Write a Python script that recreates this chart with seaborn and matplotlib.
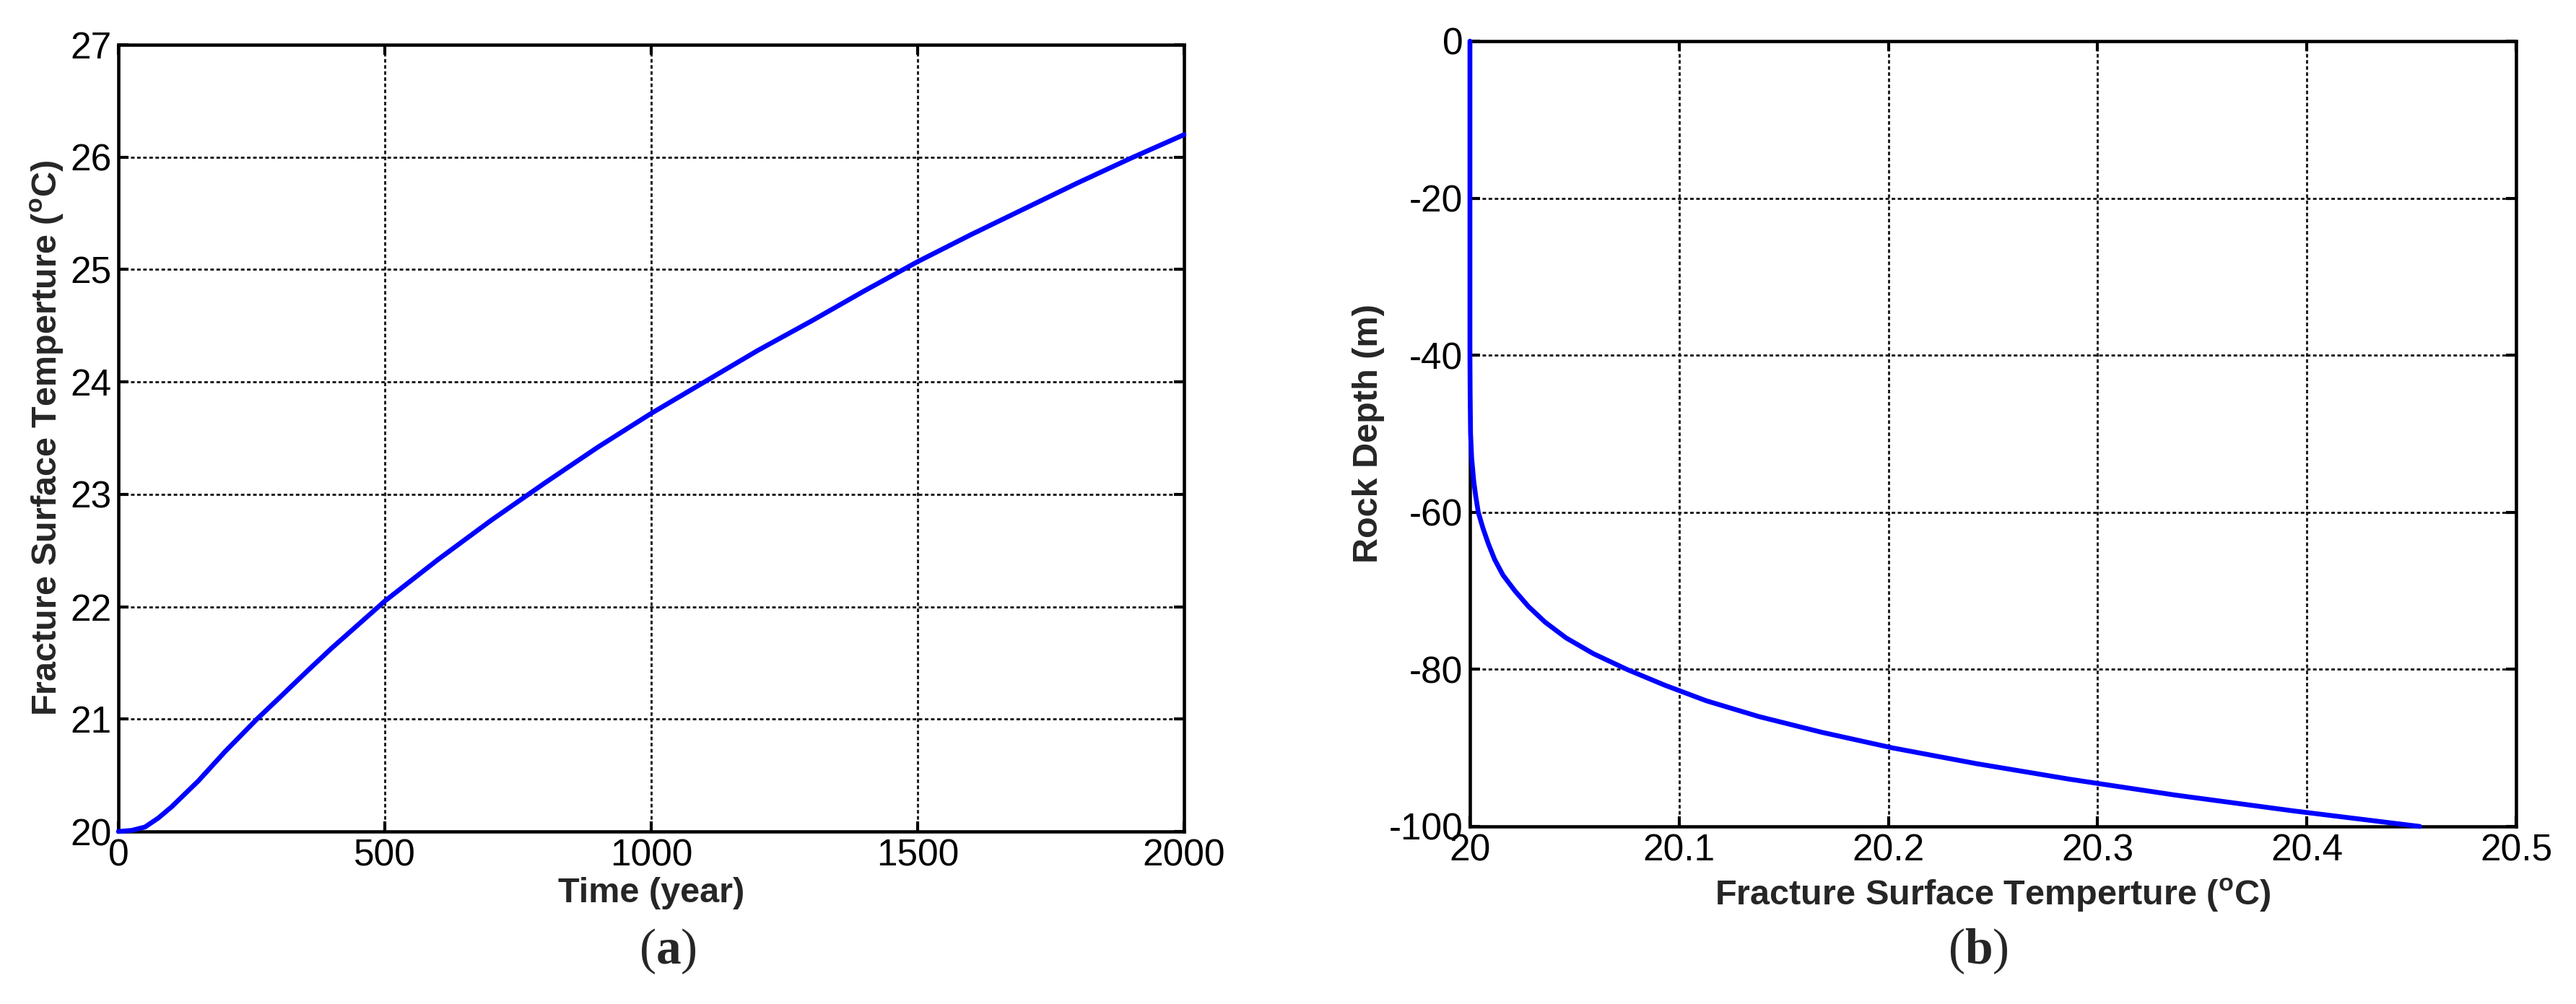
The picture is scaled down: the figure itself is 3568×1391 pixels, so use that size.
import numpy as np
import pandas as pd
import seaborn as sns
import matplotlib
matplotlib.use("Agg")
import matplotlib.pyplot as plt

# ---------------- data ----------------
time_years = [0, 25, 50, 75, 100, 150, 200, 260, 300, 355, 400, 500, 600, 700, 800, 900,
              1000, 1100, 1200, 1300, 1400, 1500, 1600, 1700, 1800, 1900, 2000]
surface_temp = [20.0, 20.01, 20.04, 20.12, 20.22, 20.45, 20.71, 21.0, 21.18, 21.43, 21.63,
                22.05, 22.42, 22.77, 23.10, 23.42, 23.72, 24.0, 24.28, 24.54, 24.81,
                25.07, 25.31, 25.54, 25.77, 25.99, 26.20]

rock_depth = [0, -10, -20, -30, -40, -45, -50, -53, -56, -58, -60, -62, -64, -66, -68,
              -70, -72, -74, -76, -78, -80, -82, -84, -86, -88, -90, -92, -94, -96,
              -98, -100]
depth_temp = [20.0, 20.0, 20.0, 20.0, 20.0, 20.0001, 20.0003, 20.0008, 20.0018, 20.0028,
              20.004, 20.0062, 20.0088, 20.0118, 20.0158, 20.0215, 20.028, 20.036,
              20.046, 20.059, 20.075, 20.093, 20.113, 20.138, 20.168, 20.202, 20.242,
              20.287, 20.337, 20.393, 20.454]

a_xticks = [0, 500, 1000, 1500, 2000]
a_xticklabels = ["0", "500", "1000", "1500", "2000"]
a_yticks = [20, 21, 22, 23, 24, 25, 26, 27]
a_yticklabels = ["20", "21", "22", "23", "24", "25", "26", "27"]
b_xticks = [20.0, 20.1, 20.2, 20.3, 20.4, 20.5]
b_xticklabels = ["20", "20.1", "20.2", "20.3", "20.4", "20.5"]
b_yticks = [0, -20, -40, -60, -80, -100]
b_yticklabels = ["0", "-20", "-40", "-60", "-80", "-100"]

# ---------------- style ----------------
sns.set_style("ticks")
SANS = ["Liberation Sans Narrow", "Liberation Sans", "DejaVu Sans"]
plt.rcParams["font.family"] = SANS
plt.rcParams["mathtext.fontset"] = "custom"
plt.rcParams["mathtext.sf"] = "Liberation Sans:bold"
plt.rcParams["mathtext.rm"] = "Liberation Serif"
plt.rcParams["mathtext.bf"] = "Liberation Serif:bold"

DPI = 100
W, H = 3568, 1391
fig = plt.figure(figsize=(W / DPI, H / DPI), dpi=DPI)
fig.patch.set_facecolor("white")

ax_a = fig.add_axes([164 / W, 1 - 1152 / H, 1476 / W, 1090 / H])
ax_b = fig.add_axes([2036 / W, 1 - 1145 / H, 1449 / W, 1088 / H])

df_a = pd.DataFrame({"t": time_years, "T": surface_temp})
df_b = pd.DataFrame({"T": depth_temp, "d": rock_depth})

sns.lineplot(data=df_a, x="t", y="T", ax=ax_a, color="#0000ff", linewidth=4.8,
             sort=False, clip_on=False, zorder=5)
sns.lineplot(data=df_b, x="T", y="d", ax=ax_b, color="#0000ff", linewidth=4.8,
             sort=False, orient="y", clip_on=False, zorder=5)

tick_fs = 37
label_fs = 35

def style(ax, xticks, xtl, yticks, ytl, xlim, ylim):
    ax.set_xlim(*xlim)
    ax.set_ylim(*ylim)
    ax.set_xticks(xticks)
    ax.set_xticklabels(xtl, fontsize=tick_fs)
    ax.set_yticks(yticks)
    ax.set_yticklabels(ytl, fontsize=tick_fs)
    ax.grid(True, color="#1a1a1a", linestyle=(0, (1.7, 1.2)), linewidth=2.1)
    ax.set_axisbelow(True)
    for s in ax.spines.values():
        s.set_visible(True)
        s.set_linewidth(3.3)
        s.set_color("black")
        s.set_zorder(4)
    ax.tick_params(direction="in", length=10, width=3.0, top=True, right=True,
                   colors="black", labelcolor="black", pad=7)
    ax.set_facecolor("white")

style(ax_a, a_xticks, a_xticklabels, a_yticks, a_yticklabels, (0, 2000), (20, 27))
style(ax_b, b_xticks, b_xticklabels, b_yticks, b_yticklabels, (20, 20.5), (-100, 0))

temp_label = r"Fracture Surface Temperture ($^{\mathsf{o}}$C)"
ax_a.set_xlabel("Time (year)", fontsize=label_fs, fontweight="bold")
ax_a.set_ylabel(temp_label, fontsize=label_fs, fontweight="bold")
ax_b.set_xlabel(temp_label, fontsize=label_fs, fontweight="bold")
ax_b.set_ylabel("Rock Depth (m)", fontsize=label_fs, fontweight="bold")

# label positions (axes coords)
ax_a.xaxis.set_label_coords(0.5, (1152 - 1237) / 1090)
ax_a.yaxis.set_label_coords((65 - 164) / 1476, 0.5)
ax_b.xaxis.set_label_coords(0.5, (1145 - 1240) / 1088)
ax_b.yaxis.set_label_coords((1895 - 2036) / 1449, 0.5)
for lab in (ax_a.xaxis.label, ax_b.xaxis.label, ax_a.yaxis.label, ax_b.yaxis.label):
    lab.set_verticalalignment("center")

# panel captions
fig.text(925 / W, 1 - 1318 / H, r"$(\mathbf{a})$", fontsize=50, ha="center", va="center")
fig.text(2740 / W, 1 - 1318 / H, r"$(\mathbf{b})$", fontsize=50, ha="center", va="center")

fig.savefig("out.png", dpi=DPI, facecolor="white")
